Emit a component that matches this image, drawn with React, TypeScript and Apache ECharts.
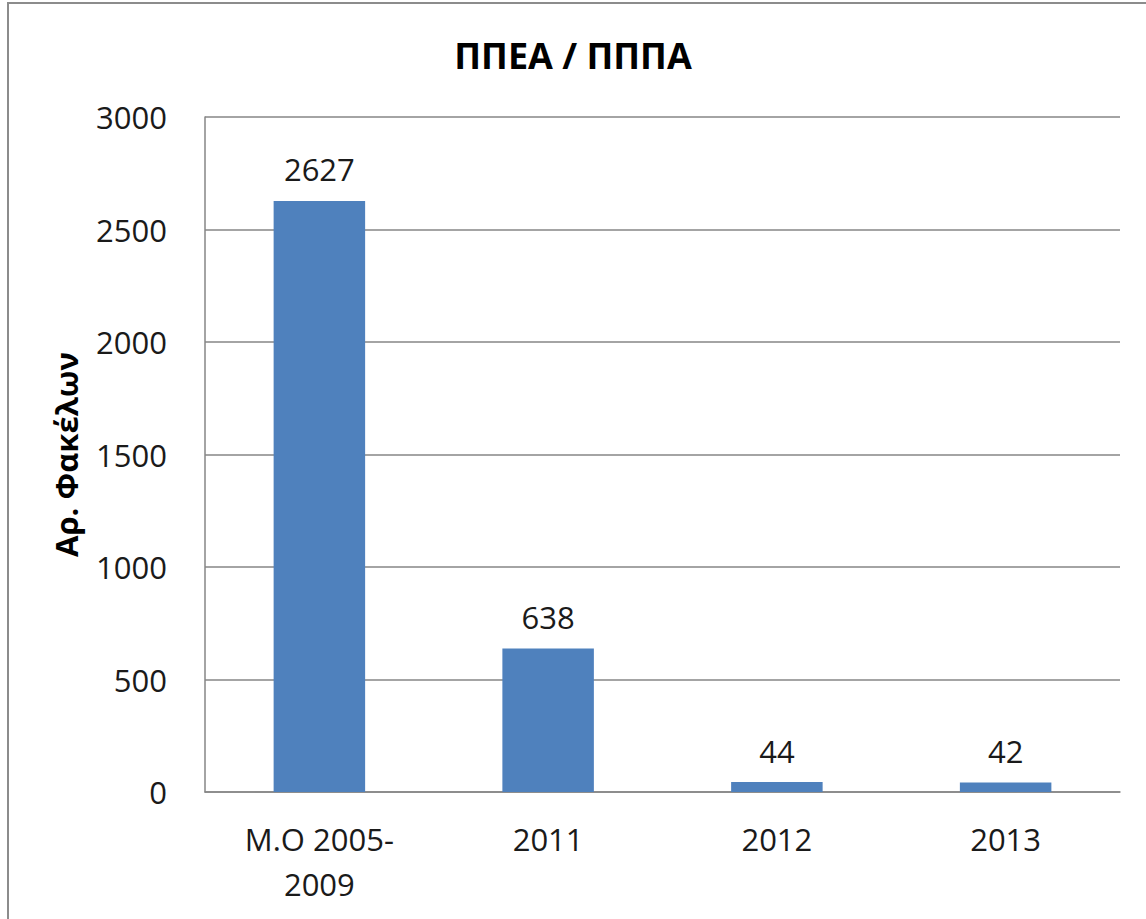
import React, { useEffect, useRef } from "react";
import * as echarts from "echarts";

const categories = ["M.O 2005-\n2009", "2011", "2012", "2013"];
const values = [2627, 638, 44, 42];
const yTicks = { min: 0, max: 3000, interval: 500 };
const titleText = "ΠΠΕΑ / ΠΠΠΑ";
const yAxisName = "Αρ. Φακέλων";

const FONT = "'Open Sans', 'Noto Sans', sans-serif";

export default function App() {
  const ref = useRef<HTMLDivElement>(null);
  useEffect(() => {
    if (!ref.current) return;
    const chart = echarts.init(ref.current, undefined, { renderer: "svg" });
    chart.setOption({
      animation: false,
      backgroundColor: "#ffffff",
      title: {
        text: titleText,
        left: "center",
        top: 32,
        textStyle: { fontFamily: FONT, fontWeight: "bold", fontSize: 36, color: "#000" },
      },
      graphic: [
        {
          type: "rect",
          shape: { x: 8, y: 3, width: 1300, height: 1100 },
          style: { fill: "none", stroke: "#8c8c8c", lineWidth: 2 },
          silent: true,
        },
      ],
      grid: { left: 205, top: 117, right: 26, bottom: 127 },
      xAxis: {
        type: "category",
        data: categories,
        axisLine: { show: true, lineStyle: { color: "#868686", width: 1.5 } },
        axisTick: { show: false },
        axisLabel: {
          fontFamily: FONT,
          fontSize: 31,
          color: "#1a1a1a",
          margin: 24,
          lineHeight: 45,
          interval: 0,
        },
      },
      yAxis: {
        type: "value",
        min: yTicks.min,
        max: yTicks.max,
        interval: yTicks.interval,
        name: yAxisName,
        nameLocation: "middle",
        nameGap: 124,
        nameRotate: 90,
        nameTextStyle: { fontFamily: FONT, fontWeight: "bold", fontSize: 31, color: "#000" },
        axisLine: { show: true, lineStyle: { color: "#868686", width: 1.5 } },
        axisTick: { show: false },
        splitLine: { show: true, lineStyle: { color: "#868686", width: 1.5 } },
        axisLabel: {
          fontFamily: FONT,
          fontSize: 31,
          color: "#1a1a1a",
          margin: 38,
          formatter: (v: number) => String(v),
        },
      },
      series: [
        {
          type: "bar",
          data: values,
          barWidth: "40%",
          itemStyle: { color: "#4F81BD" },
          label: {
            show: true,
            position: "top",
            distance: 16,
            fontFamily: FONT,
            fontSize: 31,
            color: "#1a1a1a",
          },
        },
      ],
    });
    return () => chart.dispose();
  }, []);
  return (
    <div
      ref={ref}
      style={{ position: "fixed", left: 0, top: 0, width: 1146, height: 919 }}
    />
  );
}
